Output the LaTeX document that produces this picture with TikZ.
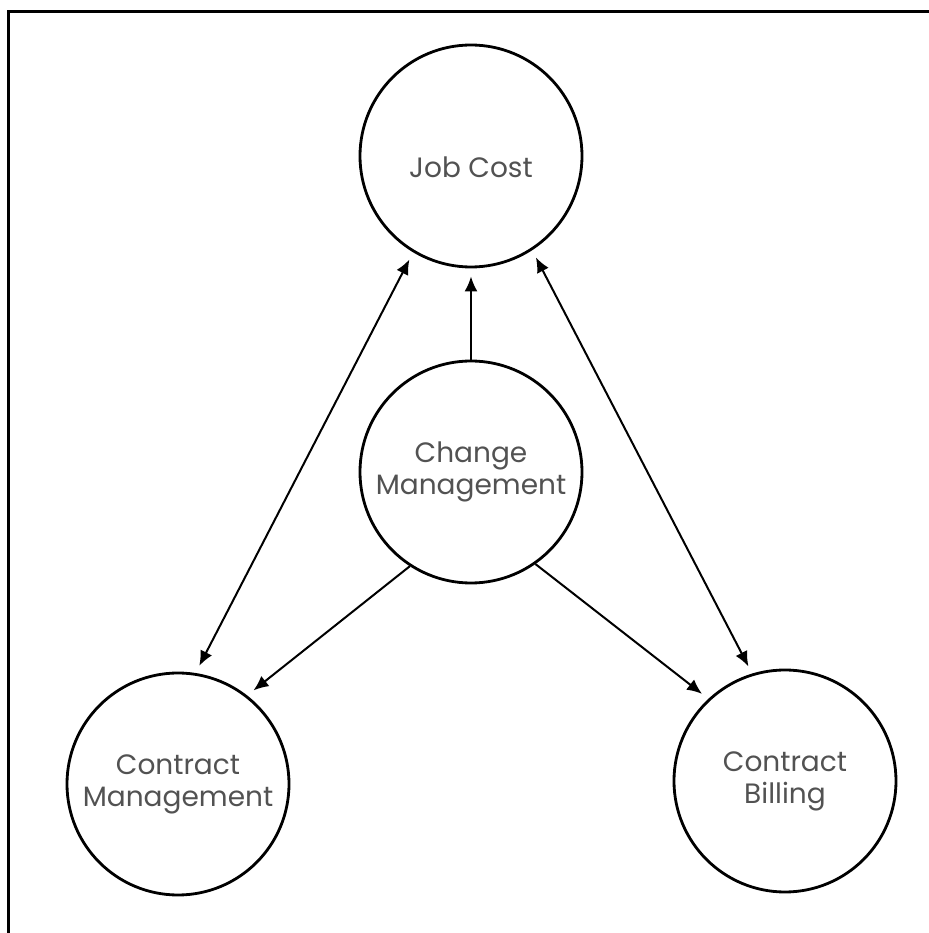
\documentclass[tikz,border=0pt]{standalone}
\usepackage{fontspec}
\setmainfont{Poppins}
\usetikzlibrary{arrows.meta}

\begin{document}
\begin{tikzpicture}
                [x=0.5pt, y=0.5pt,
                csty/.style={circle, draw=black, line width=1.4pt, minimum size=111pt, inner sep=0pt,
                             align=center, text=black!68, font=\fontsize{14}{16}\selectfont},
                asty/.style={-{Latex[length=7.5pt, width=6.5pt]}, line width=1pt, shorten >=4pt},
                dsty/.style={{Latex[length=7.5pt, width=6.5pt]}-{Latex[length=7.5pt, width=6.5pt]},
                             line width=1pt, shorten >=4pt, shorten <=4pt}]
                \useasboundingbox (0,0) rectangle (928,933);
                % frame
                \draw[line width=1.5pt] (8.5,-20) rectangle (950,921.5);
                % nodes
                \node[csty, text height=22pt, text depth=0pt] (jc) at (471,777) {Job Cost};
                \node[csty] (ch) at (471,461) {Change\\Management};
                \node[csty] (cm) at (178,149) {Contract\\Management};
                \node[csty] (cb) at (785,152) {Contract\\Billing};
                % edges
                \draw[asty] (ch.north) -- (jc.south);
                \draw[dsty] (jc.239) -- (cm.81);
                \draw[dsty] (jc.303) -- (cb.107);
                \draw[asty] (ch.237) -- (cm.52);
                \draw[asty] (ch.305) -- (cb.133);
\end{tikzpicture}
\end{document}
